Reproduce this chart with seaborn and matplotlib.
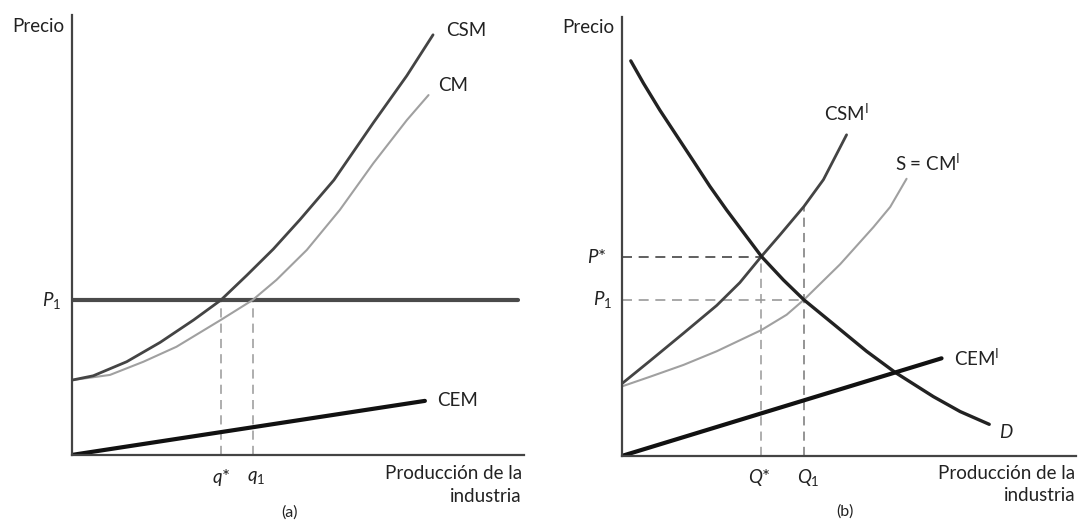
import matplotlib
matplotlib.use("Agg")
import matplotlib.pyplot as plt
import seaborn as sns

# ---------------- data (arbitrary units) ----------------
# Panel (a): firm-level curves
csm_q = [0.0, 0.48, 1.22, 1.96, 2.70, 3.30, 3.87, 4.46, 5.05, 5.80, 6.67, 7.41, 7.99]
csm_p = [1.70, 1.80, 2.12, 2.56, 3.07, 3.52, 4.08, 4.68, 5.35, 6.25, 7.55, 8.62, 9.55]
cm_q = [0.0, 0.85, 1.59, 2.32, 3.30, 4.00, 4.53, 5.20, 5.93, 6.67, 7.41, 7.89]
cm_p = [1.70, 1.82, 2.12, 2.46, 3.07, 3.52, 3.98, 4.66, 5.57, 6.63, 7.61, 8.18]
cem_q = [0.0, 7.81]
cem_p = [0.0, 1.23]
p1_a = 3.52
p1_line_q = [0.0, 9.87]
q_star, q_1 = 3.30, 4.00

# Panel (b): industry-level curves
d_q = [0.20, 0.48, 0.84, 1.21, 1.58, 1.94, 2.31, 2.68, 3.08, 3.56, 4.01,
       4.66, 5.39, 6.02, 6.86, 7.45, 8.09]
d_p = [8.98, 8.47, 7.86, 7.28, 6.70, 6.13, 5.59, 5.08, 4.53, 4.00, 3.55,
       3.00, 2.38, 1.90, 1.35, 1.01, 0.72]
csmi_q = [0.0, 0.62, 1.36, 2.09, 2.60, 3.07, 3.48, 4.01, 4.44, 4.95]
csmi_p = [1.64, 2.16, 2.79, 3.42, 3.94, 4.53, 5.02, 5.67, 6.28, 7.30]
cmi_q = [0.0, 0.62, 1.36, 2.09, 3.07, 3.63, 4.01, 4.81, 5.54, 5.91, 6.27]
cmi_p = [1.58, 1.80, 2.07, 2.38, 2.86, 3.21, 3.55, 4.36, 5.20, 5.66, 6.30]
cemi_q = [0.0, 7.04]
cemi_p = [0.0, 2.22]
p_star, p1_b = 4.53, 3.55
Q_star, Q_1 = 3.07, 4.01
csmi_at_Q1 = 5.67

sns.set_theme(style="white")
plt.rcParams['font.family'] = ['Lato', 'DejaVu Sans']
plt.rcParams['mathtext.fontset'] = 'custom'
plt.rcParams['mathtext.rm'] = 'Lato'
plt.rcParams['mathtext.it'] = 'Lato:italic'

fig = plt.figure(figsize=(10.78, 5.21), dpi=100)
axa = fig.add_axes([71.5/1078, 66/521, 452.5/1078, 440/521])
axb = fig.add_axes([621.7/1078, 65/521, 454.3/1078, 439/521])

FS = 13.5
TC = "#222222"
for ax in (axa, axb):
    for s in ("top", "right"):
        ax.spines[s].set_visible(False)
    for s in ("left", "bottom"):
        ax.spines[s].set_color("#444444")
        ax.spines[s].set_linewidth(1.6)
    ax.set_xticks([])
    ax.set_yticks([])

axa.set_xlim(0, 10)
axa.set_ylim(0, 10)
axb.set_xlim(0, 10)
axb.set_ylim(0, 439/44)

DASH = (0, (6, 4))
# ---- panel (a)
axa.plot([q_star, q_star], [0, p1_a], ls=DASH, color="#999999", lw=1.1)
axa.plot([q_1, q_1], [0, p1_a], ls=DASH, color="#999999", lw=1.1)
sns.lineplot(x=p1_line_q, y=[p1_a, p1_a], ax=axa, color="#4a4a4a", linewidth=3.0, estimator=None)
sns.lineplot(x=cm_q, y=cm_p, ax=axa, color="#a0a0a0", linewidth=1.5, estimator=None, sort=False)
sns.lineplot(x=csm_q, y=csm_p, ax=axa, color="#444444", linewidth=2.0, estimator=None, sort=False)
sns.lineplot(x=cem_q, y=cem_p, ax=axa, color="#111111", linewidth=3.0, estimator=None)

axa.text(-0.74, 9.73, "Precio", ha="center", va="center", fontsize=FS, color=TC, clip_on=False)
axa.text(8.72, 9.64, "CSM", ha="center", va="center", fontsize=FS, color=TC)
axa.text(8.43, 8.39, "CM", ha="center", va="center", fontsize=FS, color=TC)
axa.text(8.54, 1.25, "CEM", ha="center", va="center", fontsize=FS, color=TC)
axa.text(-0.44, p1_a, "$P_{\\mathrm{1}}$", ha="center", va="center", fontsize=FS, color=TC, clip_on=False)
axa.text(q_star, -0.52, "$q$*", ha="center", va="center", fontsize=FS, color=TC, clip_on=False)
axa.text(q_1 + 0.08, -0.52, "$q_{\\mathrm{1}}$", ha="center", va="center", fontsize=FS, color=TC, clip_on=False)
axa.text(9.95, -0.41, "Producción de la", ha="right", va="center", fontsize=FS, color=TC, clip_on=False)
axa.text(9.95, -0.95, "industria", ha="right", va="center", fontsize=FS, color=TC, clip_on=False)
axa.text(4.81, -1.30, "(a)", ha="center", va="center", fontsize=FS - 2, color=TC, clip_on=False)

# ---- panel (b)
axb.plot([0, Q_star], [p_star, p_star], ls=DASH, color="#444444", lw=1.2)
axb.plot([0, Q_1], [p1_b, p1_b], ls=DASH, color="#999999", lw=1.2)
axb.plot([Q_star, Q_star], [0, p_star], ls=DASH, color="#999999", lw=1.1)
axb.plot([Q_1, Q_1], [0, csmi_at_Q1], ls=DASH, color="#777777", lw=1.1)
sns.lineplot(x=cmi_q, y=cmi_p, ax=axb, color="#a0a0a0", linewidth=1.5, estimator=None, sort=False)
sns.lineplot(x=csmi_q, y=csmi_p, ax=axb, color="#444444", linewidth=2.0, estimator=None, sort=False)
sns.lineplot(x=d_q, y=d_p, ax=axb, color="#222222", linewidth=2.4, estimator=None, sort=False)
sns.lineplot(x=cemi_q, y=cemi_p, ax=axb, color="#111111", linewidth=3.0, estimator=None)

axb.text(-0.74, 9.73, "Precio", ha="center", va="center", fontsize=FS, color=TC, clip_on=False)
axb.text(4.95, 7.80, "CSM$^{\\mathrm{I}}$", ha="center", va="center", fontsize=FS, color=TC)
axb.text(6.74, 6.66, "S = CM$^{\\mathrm{I}}$", ha="center", va="center", fontsize=FS, color=TC)
axb.text(7.81, 2.23, "CEM$^{\\mathrm{I}}$", ha="center", va="center", fontsize=FS, color=TC)
axb.text(8.46, 0.55, "$D$", ha="center", va="center", fontsize=FS, color=TC)
axb.text(-0.54, p_star, "$P$*", ha="center", va="center", fontsize=FS, color=TC, clip_on=False)
axb.text(-0.43, p1_b, "$P_{\\mathrm{1}}$", ha="center", va="center", fontsize=FS, color=TC, clip_on=False)
axb.text(Q_star - 0.03, -0.50, "$Q$*", ha="center", va="center", fontsize=FS, color=TC, clip_on=False)
axb.text(Q_1 + 0.09, -0.50, "$Q_{\\mathrm{1}}$", ha="center", va="center", fontsize=FS, color=TC, clip_on=False)
axb.text(9.98, -0.39, "Producción de la", ha="right", va="center", fontsize=FS, color=TC, clip_on=False)
axb.text(9.98, -0.89, "industria", ha="right", va="center", fontsize=FS, color=TC, clip_on=False)
axb.text(4.92, -1.27, "(b)", ha="center", va="center", fontsize=FS - 2, color=TC, clip_on=False)

fig.savefig("out.png", dpi=100)
